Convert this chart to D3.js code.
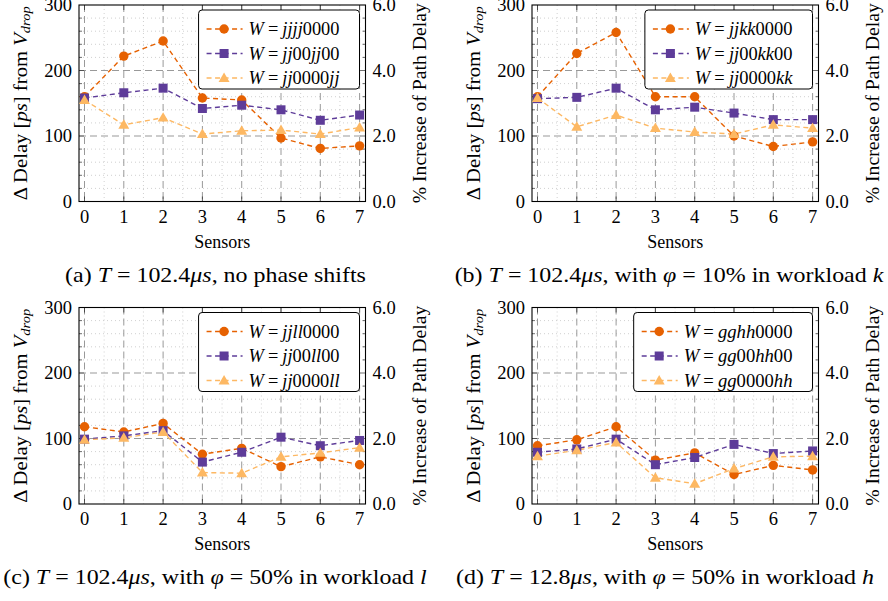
<!DOCTYPE html>
<html>
<head>
<meta charset="utf-8">
<script src="https://cdn.jsdelivr.net/npm/d3@7"></script>
<style>
  body { margin: 0; background: #fff; }
</style>
</head>
<body>
<script>
// sensors on the x axis
const sensors = [0, 1, 2, 3, 4, 5, 6, 7];
const leftTicks = [0, 100, 200, 300];
const rightTicks = ["0.0", "2.0", "4.0", "6.0"];

// (a) T = 102.4us, no phase shifts
const aFirst  = [160, 222, 245, 158, 155, 97, 81, 85];
const aSecond = [158, 166, 173, 142, 147, 140, 124, 132];
const aThird  = [155, 117, 128, 103, 108, 109, 103, 113];
const aNames  = ["jjjj0000", "jj00jj00", "jj0000jj"];

// (b) phase 10% in workload k
const bFirst  = [160, 226, 258, 160, 160, 100, 84, 91];
const bSecond = [157, 159, 173, 140, 144, 135, 125, 125];
const bThird  = [158, 114, 132, 112, 106, 103, 117, 112];
const bNames  = ["jjkk0000", "jj00kk00", "jj0000kk"];

// (c) phase 50% in workload l
const cFirst  = [118, 110, 123, 76, 85, 57, 72, 60];
const cSecond = [99, 104, 112, 64, 79, 102, 89, 97];
const cThird  = [98, 101, 110, 48, 47, 72, 78, 86];
const cNames  = ["jjll0000", "jj00ll00", "jj0000ll"];

// (d) T = 12.8us, phase 50% in workload h
const dFirst  = [89, 98, 118, 67, 78, 45, 59, 52];
const dSecond = [79, 84, 99, 60, 71, 91, 77, 81];
const dThird  = [73, 82, 94, 40, 31, 54, 72, 73];
const dNames  = ["gghh0000", "gg00hh00", "gg0000hh"];

// captions, $...$ marks math (letters italic)
const captions = [
  "(a) $T = 102.4\u03bcs$, no phase shifts",
  "(b) $T = 102.4\u03bcs$, with $\u03c6 = 10$% in workload $k$",
  "(c) $T = 102.4\u03bcs$, with $\u03c6 = 50$% in workload $l$",
  "(d) $T = 12.8\u03bcs$, with $\u03c6 = 50$% in workload $h$"
];

const colors = ["#e66101", "#5e3c99", "#fdb863"];
const shapes = ["circle", "square", "triangle"];

const svg = d3.select("body").append("svg")
  .attr("width", 888).attr("height", 601)
  .attr("font-family", "'Liberation Serif', 'DejaVu Serif', serif");

// add text with math segments as tspans
function mathText(sel, str) {
  let parts = str.split("$");
  parts.forEach((p, i) => {
    if (i % 2 === 0) {
      sel.append("tspan").text(p);
    } else {
      // letters italic, digits and symbols upright
      let chunks = p.match(/[A-Za-z\u03bc\u03c6]+|[^A-Za-z\u03bc\u03c6]+/g) || [];
      chunks.forEach(c => {
        let t = sel.append("tspan").text(c);
        if (/[A-Za-z\u03bc\u03c6]/.test(c)) t.attr("font-style", "italic");
      });
    }
  });
}

// Computer Modern is wider than Times, stretch a bit
function widen(sel, k) {
  const len = sel.node().getComputedTextLength() * k;
  sel.attr("textLength", len).attr("lengthAdjust", "spacingAndGlyphs");
  return len;
}

function marker(g, shape, x, y, color) {
  if (shape === "circle") {
    g.append("circle").attr("cx", x).attr("cy", y).attr("r", 4.7).attr("fill", color);
  } else if (shape === "square") {
    g.append("rect").attr("x", x - 4.5).attr("y", y - 4.5)
      .attr("width", 9).attr("height", 9).attr("fill", color);
  } else {
    g.append("path").attr("d", d3.symbol().type(d3.symbolTriangle).size(52)())
      .attr("transform", "translate(" + x + "," + (y + 0.8) + ")").attr("fill", color);
  }
}

function drawPanel(left, top, series, names, caption, capX) {
  const w = 286.5, h = 196.5;
  const g = svg.append("g").attr("transform", "translate(" + left + "," + top + ")");

  const x = d3.scaleLinear().domain([-0.14, 7.15]).range([0, w]);
  const y = d3.scaleLinear().domain([0, 300]).range([h, 0]);

  // minor grid
  const minorY = d3.range(20, 300, 20).filter(v => v % 100 !== 0);
  g.selectAll(".mgy").data(minorY).enter().append("line")
    .attr("x1", 0).attr("x2", w).attr("y1", d => y(d)).attr("y2", d => y(d))
    .attr("stroke", "#c4c4c4").attr("stroke-width", 0.8).attr("stroke-dasharray", "1,3");
  g.selectAll(".mgx").data(d3.range(0.5, 7, 1)).enter().append("line")
    .attr("x1", d => x(d)).attr("x2", d => x(d)).attr("y1", 0).attr("y2", h)
    .attr("stroke", "#c4c4c4").attr("stroke-width", 0.8).attr("stroke-dasharray", "1,3");

  // major grid
  g.selectAll(".gy").data([100, 200]).enter().append("line")
    .attr("x1", 0).attr("x2", w).attr("y1", d => y(d)).attr("y2", d => y(d))
    .attr("stroke", "#999").attr("stroke-width", 1).attr("stroke-dasharray", "7,4");
  g.selectAll(".gx").data(sensors).enter().append("line")
    .attr("x1", d => x(d)).attr("x2", d => x(d)).attr("y1", 0).attr("y2", h)
    .attr("stroke", "#999").attr("stroke-width", 1).attr("stroke-dasharray", "7,4");

  // ticks inside the frame, mirrored
  d3.range(20, 300, 20).forEach(v => {
    const len = v % 100 === 0 ? 5 : 3;
    g.append("line").attr("x1", 0).attr("x2", len).attr("y1", y(v)).attr("y2", y(v))
      .attr("stroke", "#333").attr("stroke-width", 0.7);
    g.append("line").attr("x1", w - len).attr("x2", w).attr("y1", y(v)).attr("y2", y(v))
      .attr("stroke", "#333").attr("stroke-width", 0.7);
  });
  sensors.forEach(s => {
    g.append("line").attr("x1", x(s)).attr("x2", x(s)).attr("y1", h).attr("y2", h - 5)
      .attr("stroke", "#333").attr("stroke-width", 0.8);
    g.append("line").attr("x1", x(s)).attr("x2", x(s)).attr("y1", 0).attr("y2", 5)
      .attr("stroke", "#333").attr("stroke-width", 0.8);
  });

  // frame
  g.append("rect").attr("width", w).attr("height", h)
    .attr("fill", "none").attr("stroke", "#000").attr("stroke-width", 1.1);

  // tick labels
  g.selectAll(".ly").data(leftTicks).enter().append("text")
    .attr("x", -7).attr("y", d => y(d) + 6).attr("text-anchor", "end")
    .attr("font-size", 18.5).text(d => d);
  g.selectAll(".ry").data(rightTicks).enter().append("text")
    .attr("x", w + 7).attr("y", (d, i) => y(leftTicks[i]) + 6)
    .attr("font-size", 18.5).text(d => d);
  g.selectAll(".lx").data(sensors).enter().append("text")
    .attr("x", d => x(d)).attr("y", h + 21).attr("text-anchor", "middle")
    .attr("font-size", 18.5).text(d => d);

  // axis titles
  g.append("text").attr("x", w / 2).attr("y", h + 46).attr("text-anchor", "middle")
    .attr("font-size", 18).text("Sensors");
  const yl = g.append("text").attr("transform", "translate(-52," + (h / 2) + ") rotate(-90)")
    .attr("text-anchor", "middle").attr("font-size", 18.5)
    .attr("textLength", 194).attr("lengthAdjust", "spacingAndGlyphs");
  yl.append("tspan").text("\u0394 Delay [");
  yl.append("tspan").attr("font-style", "italic").text("ps");
  yl.append("tspan").text("] from ");
  yl.append("tspan").attr("font-style", "italic").text("V");
  yl.append("tspan").attr("font-style", "italic").attr("font-size", 13).attr("dy", 3).text("drop");
  g.append("text").attr("transform", "translate(" + (w + 60) + "," + (h / 2) + ") rotate(-90)")
    .attr("text-anchor", "middle").attr("font-size", 18.5)
    .attr("textLength", 200).attr("lengthAdjust", "spacingAndGlyphs")
    .text("% Increase of Path Delay");

  // series
  const line = d3.line().x((d, i) => x(sensors[i])).y(d => y(d));
  series.forEach((vals, k) => {
    g.append("path").datum(vals).attr("d", line).attr("fill", "none")
      .attr("stroke", colors[k]).attr("stroke-width", 1.4).attr("stroke-dasharray", "5,3.5");
  });
  series.forEach((vals, k) => {
    vals.forEach((v, i) => marker(g, shapes[k], x(sensors[i]), y(v), colors[k]));
  });

  // legend, box width follows the longest entry
  const lg = g.append("g");
  const box = lg.append("rect").attr("y", 5).attr("height", 79)
    .attr("rx", 3.5).attr("fill", "#fff").attr("stroke", "#000").attr("stroke-width", 1);
  let maxLen = 0;
  const texts = [];
  names.forEach((n, k) => {
    const t = lg.append("text").attr("y", 5 + 19 + k * 24.5 + 6).attr("font-size", 18);
    t.append("tspan").attr("font-style", "italic").text("W");
    t.append("tspan").attr("dx", 4).text("=");
    const rest = t.append("tspan").attr("dx", 4);
    mathText(rest, "$" + n + "$");
    maxLen = Math.max(maxLen, widen(t, 1.12) + 8);
    texts.push(t);
  });
  const boxW = maxLen + 62;
  const bx = w - 6 - boxW;
  box.attr("x", bx).attr("width", boxW);
  names.forEach((n, k) => {
    const ly = 5 + 19 + k * 24.5;
    lg.append("line").attr("x1", bx + 8).attr("x2", bx + 44).attr("y1", ly).attr("y2", ly)
      .attr("stroke", colors[k]).attr("stroke-width", 1.4).attr("stroke-dasharray", "5,3.5");
    marker(lg, shapes[k], bx + 25.5, ly, colors[k]);
    texts[k].attr("x", bx + 50);
  });

  // caption
  const c = svg.append("text").attr("x", capX).attr("y", top + h + 80)
    .attr("text-anchor", "middle").attr("font-size", 21);
  mathText(c, caption);
  widen(c, 1.14);
}

drawPanel(79, 5, [aFirst, aSecond, aThird], aNames, captions[0], 215.5);
drawPanel(532, 5, [bFirst, bSecond, bThird], bNames, captions[1], 669);
drawPanel(79, 307.5, [cFirst, cSecond, cThird], cNames, captions[2], 215);
drawPanel(532, 307.5, [dFirst, dSecond, dThird], dNames, captions[3], 665);
</script>
</body>
</html>
